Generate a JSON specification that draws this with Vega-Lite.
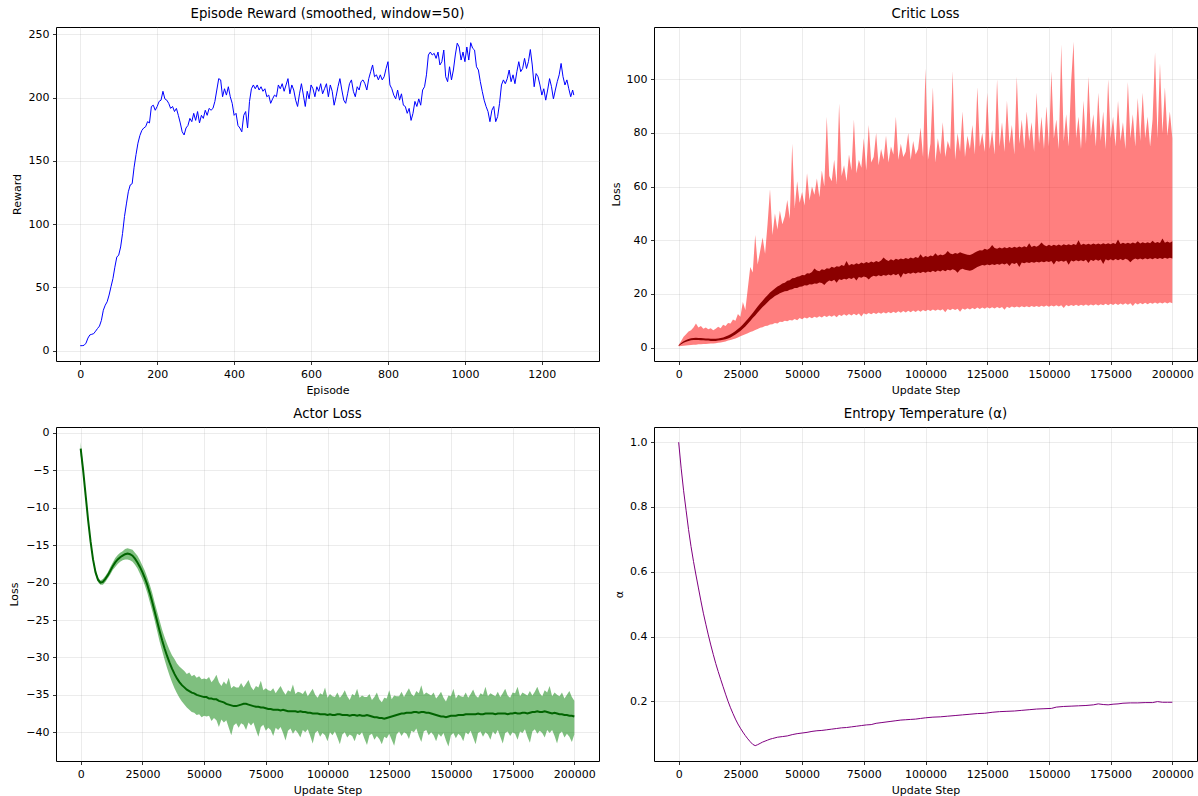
{
"$schema": "https://vega.github.io/schema/vega-lite/v6.json",
"autosize": {"type": "none"},
"padding": {"left": 56, "top": 27, "right": 1142, "bottom": 769},
"background": "white",
"columns": 2,
"spacing": {"row": 66, "column": 55},
"bounds": "flush",
"config": {
  "view": {"stroke": "#000", "strokeWidth": 1},
  "axis": {"domain": false, "grid": true, "gridColor": "#b0b0b0", "gridOpacity": 0.3, "gridWidth": 0.8, "tickColor": "#000", "tickSize": 3.5, "tickWidth": 0.8, "labelFont": "DejaVu Sans", "labelFontSize": 11, "labelColor": "#000", "labelPadding": 3.5, "labelOverlap": false, "labelFlush": false, "titleFont": "DejaVu Sans", "titleFontSize": 11, "titleFontWeight": "normal", "titleColor": "#000"},
  "title": {"font": "DejaVu Sans", "fontSize": 13.3, "fontWeight": "normal", "color": "#000", "anchor": "middle", "frame": "group", "offset": 7, "baseline": "alphabetic"}
},
"datasets": {
"reward": [
{"e":0,"r":4},{"e":5,"r":4},{"e":10,"r":4.3},{"e":15,"r":6},{"e":20,"r":10},{"e":25,"r":12.5},{"e":30,"r":13},{"e":35,"r":13.5},{"e":40,"r":15.5},{"e":45,"r":17.6},{"e":50,"r":19.5},{"e":55,"r":24},{"e":60,"r":32},{"e":65,"r":36},{"e":70,"r":38.7},{"e":75,"r":44},{"e":80,"r":50.6},{"e":85,"r":57},{"e":90,"r":66},{"e":95,"r":74},{"e":100,"r":75.6},{"e":105,"r":82},{"e":110,"r":92.7},{"e":115,"r":106},{"e":120,"r":116},{"e":125,"r":125.6},{"e":130,"r":131},{"e":135,"r":132},{"e":140,"r":145},{"e":145,"r":155},{"e":150,"r":164},{"e":155,"r":170},{"e":160,"r":174},{"e":165,"r":176},{"e":170,"r":177},{"e":175,"r":181},{"e":180,"r":180},{"e":185,"r":193},{"e":190,"r":194},{"e":195,"r":190},{"e":200,"r":193},{"e":205,"r":197},{"e":210,"r":198},{"e":215,"r":205},{"e":220,"r":199},{"e":225,"r":198},{"e":230,"r":195.5},{"e":235,"r":191.5},{"e":240,"r":193},{"e":245,"r":189},{"e":250,"r":191.5},{"e":255,"r":186},{"e":260,"r":180},{"e":265,"r":173},{"e":270,"r":170.5},{"e":275,"r":176},{"e":280,"r":178},{"e":285,"r":183.6},{"e":290,"r":181},{"e":295,"r":187.6},{"e":300,"r":182},{"e":305,"r":189},{"e":310,"r":180},{"e":315,"r":186},{"e":320,"r":183.6},{"e":325,"r":190},{"e":330,"r":186},{"e":335,"r":191.5},{"e":340,"r":190},{"e":345,"r":191.5},{"e":350,"r":197},{"e":355,"r":206},{"e":360,"r":215},{"e":365,"r":214},{"e":370,"r":200.7},{"e":375,"r":207},{"e":380,"r":202},{"e":385,"r":208.6},{"e":390,"r":200.7},{"e":395,"r":195.5},{"e":400,"r":186},{"e":405,"r":187.6},{"e":410,"r":178},{"e":415,"r":176},{"e":420,"r":173},{"e":425,"r":186},{"e":430,"r":189},{"e":435,"r":176},{"e":440,"r":197},{"e":445,"r":207},{"e":450,"r":210},{"e":455,"r":207},{"e":460,"r":210},{"e":465,"r":206},{"e":470,"r":208.6},{"e":475,"r":205},{"e":480,"r":207},{"e":485,"r":200.7},{"e":490,"r":202},{"e":495,"r":195.5},{"e":500,"r":199},{"e":505,"r":202},{"e":510,"r":200.7},{"e":515,"r":210},{"e":520,"r":207},{"e":525,"r":211},{"e":530,"r":205},{"e":535,"r":210},{"e":540,"r":215},{"e":545,"r":203},{"e":550,"r":210},{"e":555,"r":206},{"e":560,"r":198},{"e":565,"r":193},{"e":570,"r":203},{"e":575,"r":211},{"e":580,"r":202},{"e":585,"r":193},{"e":590,"r":205},{"e":595,"r":199},{"e":600,"r":210},{"e":605,"r":207},{"e":610,"r":200.7},{"e":615,"r":208.6},{"e":620,"r":205},{"e":625,"r":211},{"e":630,"r":203},{"e":635,"r":207},{"e":640,"r":211},{"e":645,"r":200.7},{"e":650,"r":210},{"e":655,"r":205},{"e":660,"r":194},{"e":665,"r":200.7},{"e":670,"r":208.6},{"e":675,"r":215},{"e":680,"r":206},{"e":685,"r":198},{"e":690,"r":195.5},{"e":695,"r":203},{"e":700,"r":211},{"e":705,"r":214},{"e":710,"r":205},{"e":715,"r":200.7},{"e":720,"r":208.6},{"e":725,"r":206},{"e":730,"r":212.6},{"e":735,"r":214},{"e":740,"r":211},{"e":745,"r":206},{"e":750,"r":215},{"e":755,"r":220.5},{"e":760,"r":225.8},{"e":765,"r":216.5},{"e":770,"r":218},{"e":775,"r":214},{"e":780,"r":218},{"e":785,"r":214},{"e":790,"r":216.5},{"e":795,"r":223},{"e":800,"r":228.4},{"e":805,"r":210},{"e":810,"r":207},{"e":815,"r":202},{"e":820,"r":199},{"e":825,"r":206},{"e":830,"r":198},{"e":835,"r":203},{"e":840,"r":194},{"e":845,"r":193},{"e":850,"r":187.6},{"e":855,"r":191.5},{"e":860,"r":182},{"e":865,"r":187.6},{"e":870,"r":197},{"e":875,"r":193},{"e":880,"r":199},{"e":885,"r":194},{"e":890,"r":206},{"e":895,"r":208.6},{"e":900,"r":218},{"e":905,"r":233.7},{"e":910,"r":236},{"e":915,"r":233.7},{"e":920,"r":235},{"e":925,"r":231},{"e":930,"r":236},{"e":935,"r":225.8},{"e":940,"r":228.4},{"e":945,"r":237.6},{"e":950,"r":216.5},{"e":955,"r":212.6},{"e":960,"r":224.4},{"e":965,"r":214},{"e":970,"r":221.8},{"e":975,"r":233.7},{"e":980,"r":243},{"e":985,"r":240},{"e":990,"r":229.7},{"e":995,"r":236},{"e":1000,"r":228.4},{"e":1005,"r":240},{"e":1010,"r":229.7},{"e":1015,"r":243.4},{"e":1020,"r":239},{"e":1025,"r":237.6},{"e":1030,"r":224.4},{"e":1035,"r":221.8},{"e":1040,"r":212.6},{"e":1045,"r":205},{"e":1050,"r":198},{"e":1055,"r":193},{"e":1060,"r":189},{"e":1065,"r":181},{"e":1070,"r":190},{"e":1075,"r":193},{"e":1080,"r":181},{"e":1085,"r":185},{"e":1090,"r":195.5},{"e":1095,"r":210},{"e":1100,"r":214},{"e":1105,"r":211},{"e":1110,"r":215},{"e":1115,"r":221.8},{"e":1120,"r":212.6},{"e":1125,"r":218},{"e":1130,"r":211},{"e":1135,"r":220.5},{"e":1140,"r":228.4},{"e":1145,"r":220.5},{"e":1150,"r":223},{"e":1155,"r":231},{"e":1160,"r":223},{"e":1165,"r":228.4},{"e":1170,"r":238},{"e":1175,"r":225.8},{"e":1180,"r":208.6},{"e":1185,"r":219},{"e":1190,"r":216.5},{"e":1195,"r":210},{"e":1200,"r":202},{"e":1205,"r":207},{"e":1210,"r":198},{"e":1215,"r":206},{"e":1220,"r":215},{"e":1225,"r":208.6},{"e":1230,"r":199},{"e":1235,"r":206},{"e":1240,"r":212.6},{"e":1245,"r":218},{"e":1250,"r":227},{"e":1255,"r":216.5},{"e":1260,"r":210},{"e":1265,"r":214},{"e":1270,"r":207},{"e":1275,"r":200.7},{"e":1280,"r":206},{"e":1283,"r":202}
],
"critic": [
{"s":0,"lo":0.5,"hi":1.0,"a":0.6,"b":0.9},{"s":1000,"lo":0.6,"hi":2.5,"a":1.2,"b":1.7},{"s":2000,"lo":0.7,"hi":4,"a":1.8,"b":2.4},{"s":3000,"lo":0.8,"hi":5,"a":2.2,"b":2.8},{"s":4000,"lo":0.9,"hi":6,"a":2.5,"b":3.2},{"s":5000,"lo":1.0,"hi":6.5,"a":2.7,"b":3.5},{"s":6000,"lo":1.1,"hi":7.5,"a":2.8,"b":3.6},{"s":7000,"lo":1.1,"hi":9,"a":2.8,"b":3.7},{"s":8000,"lo":1.2,"hi":7.5,"a":2.8,"b":3.6},{"s":9000,"lo":1.2,"hi":8,"a":2.7,"b":3.6},
{"s":10000,"lo":1.3,"hi":7,"a":2.7,"b":3.5},{"s":11000,"lo":1.3,"hi":7.5,"a":2.6,"b":3.4},{"s":12000,"lo":1.4,"hi":6.8,"a":2.6,"b":3.4},{"s":13000,"lo":1.5,"hi":7.2,"a":2.5,"b":3.3},{"s":14000,"lo":1.5,"hi":6.5,"a":2.5,"b":3.3},{"s":15000,"lo":1.6,"hi":7,"a":2.5,"b":3.3},{"s":16000,"lo":1.8,"hi":7.8,"a":2.6,"b":3.4},{"s":17000,"lo":1.9,"hi":7.2,"a":2.7,"b":3.6},{"s":18000,"lo":2.1,"hi":8.5,"a":2.9,"b":3.8},{"s":19000,"lo":2.3,"hi":8,"a":3.1,"b":4.1},
{"s":20000,"lo":2.6,"hi":9.2,"a":3.4,"b":4.5},{"s":21000,"lo":2.8,"hi":9,"a":3.8,"b":5.0},{"s":22000,"lo":3.1,"hi":10.5,"a":4.3,"b":5.5},{"s":23000,"lo":3.4,"hi":10,"a":4.9,"b":6.2},{"s":24000,"lo":3.8,"hi":12.5,"a":5.5,"b":6.9},{"s":25000,"lo":4.2,"hi":11.5,"a":6.2,"b":7.7},{"s":26000,"lo":4.6,"hi":17,"a":7.0,"b":8.6},{"s":27000,"lo":5.0,"hi":14,"a":7.9,"b":9.6},{"s":28000,"lo":5.3,"hi":22,"a":8.9,"b":10.7},{"s":29000,"lo":5.8,"hi":30,"a":9.9,"b":11.8},
{"s":30000,"lo":6.1,"hi":28,"a":11.0,"b":12.9},{"s":31000,"lo":6.6,"hi":42,"a":12.0,"b":14.1},{"s":32000,"lo":6.9,"hi":31,"a":13.1,"b":15.3},{"s":33000,"lo":7.4,"hi":36,"a":14.1,"b":16.4},{"s":34000,"lo":7.6,"hi":41,"a":15.1,"b":17.5},{"s":35000,"lo":8.0,"hi":35,"a":16.0,"b":18.6},{"s":36000,"lo":8.1,"hi":46,"a":16.9,"b":19.5},{"s":37000,"lo":8.6,"hi":59,"a":17.8,"b":20.5},{"s":38000,"lo":8.7,"hi":42,"a":18.5,"b":21.3},{"s":39000,"lo":9.2,"hi":50,"a":19.2,"b":22.0},
{"s":40000,"lo":9.0,"hi":44,"a":19.7,"b":22.8},{"s":41000,"lo":9.6,"hi":51,"a":20.3,"b":23.2},{"s":42000,"lo":9.5,"hi":46,"a":20.6,"b":23.9},{"s":43000,"lo":10.0,"hi":49,"a":21.0,"b":24.2},{"s":44000,"lo":9.8,"hi":55,"a":21.1,"b":24.9},{"s":45000,"lo":10.3,"hi":48,"a":21.6,"b":25.1},{"s":46000,"lo":10.1,"hi":76,"a":21.7,"b":25.8},{"s":47000,"lo":10.7,"hi":52,"a":22.2,"b":25.9},{"s":48000,"lo":10.2,"hi":62,"a":22.2,"b":26.4},{"s":49000,"lo":11.0,"hi":54,"a":22.7,"b":26.6},
{"s":50000,"lo":10.6,"hi":58,"a":22.8,"b":27.1},{"s":51000,"lo":11.2,"hi":53,"a":23.2,"b":27.0},{"s":52000,"lo":10.8,"hi":65,"a":23.1,"b":27.7},{"s":53000,"lo":11.4,"hi":55,"a":23.6,"b":27.6},{"s":54000,"lo":10.9,"hi":60,"a":23.5,"b":28.2},{"s":55000,"lo":11.5,"hi":57,"a":23.9,"b":29.5},{"s":56000,"lo":11.1,"hi":63,"a":23.8,"b":28.7},{"s":57000,"lo":11.7,"hi":56,"a":24.3,"b":28.5},{"s":58000,"lo":11.2,"hi":66,"a":24.1,"b":29.2},{"s":59000,"lo":11.9,"hi":60,"a":23.3,"b":28.9},
{"s":60000,"lo":11.4,"hi":86,"a":24.4,"b":29.6},{"s":61000,"lo":12.0,"hi":64,"a":25.0,"b":29.4},{"s":62000,"lo":11.5,"hi":62,"a":24.7,"b":30.1},{"s":63000,"lo":12.1,"hi":70,"a":25.3,"b":29.8},{"s":64000,"lo":11.3,"hi":61,"a":24.2,"b":30.3},{"s":65000,"lo":12.2,"hi":91,"a":25.5,"b":30.1},{"s":66000,"lo":11.8,"hi":64,"a":25.2,"b":30.8},{"s":67000,"lo":12.4,"hi":68,"a":25.7,"b":30.4},{"s":68000,"lo":11.9,"hi":62,"a":25.4,"b":32.3},{"s":69000,"lo":12.5,"hi":72,"a":25.9,"b":30.6},
{"s":70000,"lo":12.0,"hi":66,"a":25.6,"b":31.2},{"s":71000,"lo":12.6,"hi":85,"a":26.1,"b":30.9},{"s":72000,"lo":12.1,"hi":65,"a":25.0,"b":31.4},{"s":73000,"lo":12.7,"hi":70,"a":26.3,"b":31.1},{"s":74000,"lo":11.6,"hi":67,"a":26.0,"b":31.7},{"s":75000,"lo":12.8,"hi":78,"a":26.5,"b":31.3},{"s":76000,"lo":12.3,"hi":66,"a":26.2,"b":31.9},{"s":77000,"lo":12.9,"hi":83,"a":25.4,"b":31.5},{"s":78000,"lo":12.4,"hi":69,"a":26.3,"b":32.1},{"s":79000,"lo":13.0,"hi":71,"a":26.8,"b":31.7},
{"s":80000,"lo":12.5,"hi":80,"a":26.5,"b":32.3},{"s":81000,"lo":13.1,"hi":68,"a":27.0,"b":31.9},{"s":82000,"lo":12.6,"hi":74,"a":26.6,"b":32.5},{"s":83000,"lo":13.2,"hi":70,"a":27.1,"b":33.6},{"s":84000,"lo":12.7,"hi":79,"a":26.8,"b":32.7},{"s":85000,"lo":13.3,"hi":69,"a":27.2,"b":32.3},{"s":86000,"lo":12.8,"hi":75,"a":26.9,"b":32.9},{"s":87000,"lo":13.4,"hi":72,"a":27.4,"b":32.5},{"s":88000,"lo":12.9,"hi":86,"a":27.0,"b":33.1},{"s":89000,"lo":13.5,"hi":70,"a":27.5,"b":32.7},
{"s":90000,"lo":13.0,"hi":76,"a":26.0,"b":33.2},{"s":91000,"lo":13.6,"hi":71,"a":27.7,"b":32.9},{"s":92000,"lo":13.1,"hi":73,"a":27.3,"b":33.4},{"s":93000,"lo":13.7,"hi":80,"a":27.8,"b":33.0},{"s":94000,"lo":13.2,"hi":70,"a":27.5,"b":33.6},{"s":95000,"lo":13.8,"hi":77,"a":28.0,"b":33.2},{"s":96000,"lo":13.3,"hi":72,"a":27.6,"b":33.8},{"s":97000,"lo":13.9,"hi":74,"a":28.1,"b":33.4},{"s":98000,"lo":13.4,"hi":82,"a":27.8,"b":34.8},{"s":99000,"lo":14.0,"hi":71,"a":28.3,"b":33.6},
{"s":100000,"lo":13.5,"hi":104,"a":27.9,"b":34.1},{"s":101000,"lo":14.1,"hi":70,"a":28.4,"b":33.8},{"s":102000,"lo":13.6,"hi":76,"a":28.1,"b":34.3},{"s":103000,"lo":14.2,"hi":97,"a":28.6,"b":34.0},{"s":104000,"lo":13.7,"hi":69,"a":28.2,"b":35.2},{"s":105000,"lo":14.2,"hi":78,"a":28.7,"b":34.2},{"s":106000,"lo":13.8,"hi":72,"a":28.4,"b":34.7},{"s":107000,"lo":14.3,"hi":84,"a":28.9,"b":34.4},{"s":108000,"lo":13.2,"hi":71,"a":28.5,"b":34.9},{"s":109000,"lo":14.4,"hi":77,"a":29.0,"b":36.0},
{"s":110000,"lo":13.9,"hi":74,"a":28.7,"b":35.1},{"s":111000,"lo":14.5,"hi":103,"a":29.2,"b":34.8},{"s":112000,"lo":14.0,"hi":70,"a":28.8,"b":35.3},{"s":113000,"lo":14.5,"hi":80,"a":27.9,"b":35.0},{"s":114000,"lo":13.4,"hi":73,"a":29.0,"b":35.5},{"s":115000,"lo":14.6,"hi":88,"a":29.4,"b":35.2},{"s":116000,"lo":14.1,"hi":71,"a":29.0,"b":34.9},{"s":117000,"lo":14.7,"hi":79,"a":28.8,"b":34.6},{"s":118000,"lo":14.2,"hi":74,"a":28.6,"b":34.5},{"s":119000,"lo":14.8,"hi":83,"a":28.9,"b":34.9},
{"s":120000,"lo":14.3,"hi":72,"a":29.5,"b":35.4},{"s":121000,"lo":14.9,"hi":97,"a":30.0,"b":35.9},{"s":122000,"lo":14.4,"hi":75,"a":30.4,"b":36.3},{"s":123000,"lo":14.9,"hi":80,"a":30.8,"b":36.2},{"s":124000,"lo":14.5,"hi":73,"a":30.6,"b":36.8},{"s":125000,"lo":15.0,"hi":95,"a":31.0,"b":36.5},{"s":126000,"lo":14.6,"hi":74,"a":30.7,"b":37.0},{"s":127000,"lo":15.0,"hi":81,"a":31.1,"b":38.2},{"s":128000,"lo":14.6,"hi":72,"a":30.8,"b":37.1},{"s":129000,"lo":15.1,"hi":100,"a":31.2,"b":36.8},
{"s":130000,"lo":14.7,"hi":75,"a":30.9,"b":37.3},{"s":131000,"lo":15.1,"hi":84,"a":31.3,"b":36.9},{"s":132000,"lo":14.1,"hi":73,"a":31.0,"b":37.4},{"s":133000,"lo":15.2,"hi":92,"a":31.4,"b":37.0},{"s":134000,"lo":14.8,"hi":76,"a":30.4,"b":37.5},{"s":135000,"lo":15.3,"hi":83,"a":31.5,"b":37.1},{"s":136000,"lo":14.9,"hi":72,"a":31.2,"b":37.6},{"s":137000,"lo":15.3,"hi":101,"a":31.6,"b":37.2},{"s":138000,"lo":14.9,"hi":76,"a":30.0,"b":37.7},{"s":139000,"lo":15.4,"hi":85,"a":31.7,"b":37.3},
{"s":140000,"lo":15.0,"hi":74,"a":31.4,"b":37.8},{"s":141000,"lo":15.4,"hi":88,"a":31.8,"b":37.4},{"s":142000,"lo":15.0,"hi":77,"a":31.5,"b":38.9},{"s":143000,"lo":15.5,"hi":84,"a":31.9,"b":37.5},{"s":144000,"lo":15.1,"hi":73,"a":31.6,"b":38.0},{"s":145000,"lo":15.5,"hi":95,"a":32.0,"b":37.6},{"s":146000,"lo":15.1,"hi":76,"a":31.7,"b":38.1},{"s":147000,"lo":15.6,"hi":86,"a":32.1,"b":39.2},{"s":148000,"lo":15.2,"hi":74,"a":31.8,"b":38.2},{"s":149000,"lo":15.7,"hi":90,"a":32.2,"b":37.8},
{"s":150000,"lo":15.2,"hi":75,"a":31.9,"b":38.3},{"s":151000,"lo":15.7,"hi":103,"a":32.3,"b":37.9},{"s":152000,"lo":15.3,"hi":78,"a":31.0,"b":38.3},{"s":153000,"lo":15.8,"hi":85,"a":32.4,"b":38.0},{"s":154000,"lo":15.3,"hi":74,"a":32.0,"b":38.4},{"s":155000,"lo":15.8,"hi":113,"a":32.4,"b":38.0},{"s":156000,"lo":14.8,"hi":77,"a":32.0,"b":38.5},{"s":157000,"lo":15.9,"hi":87,"a":32.5,"b":38.1},{"s":158000,"lo":15.4,"hi":75,"a":30.9,"b":38.5},{"s":159000,"lo":15.9,"hi":99,"a":32.5,"b":38.1},
{"s":160000,"lo":15.5,"hi":114,"a":32.1,"b":38.6},{"s":161000,"lo":16.0,"hi":78,"a":32.6,"b":38.2},{"s":162000,"lo":15.5,"hi":86,"a":32.2,"b":40.0},{"s":163000,"lo":16.0,"hi":74,"a":32.6,"b":38.2},{"s":164000,"lo":15.6,"hi":92,"a":32.2,"b":38.7},{"s":165000,"lo":16.1,"hi":76,"a":32.7,"b":38.3},{"s":166000,"lo":15.6,"hi":101,"a":31.5,"b":38.7},{"s":167000,"lo":16.1,"hi":79,"a":32.7,"b":38.3},{"s":168000,"lo":15.7,"hi":87,"a":32.3,"b":38.8},{"s":169000,"lo":16.2,"hi":75,"a":32.8,"b":38.4},
{"s":170000,"lo":15.7,"hi":95,"a":32.4,"b":38.8},{"s":171000,"lo":16.2,"hi":77,"a":32.8,"b":38.4},{"s":172000,"lo":15.8,"hi":88,"a":31.2,"b":38.9},{"s":173000,"lo":16.3,"hi":74,"a":32.9,"b":38.5},{"s":174000,"lo":15.8,"hi":100,"a":32.5,"b":38.9},{"s":175000,"lo":16.3,"hi":78,"a":32.9,"b":38.5},{"s":176000,"lo":15.9,"hi":86,"a":32.5,"b":39.0},{"s":177000,"lo":16.4,"hi":75,"a":33.0,"b":38.6},{"s":178000,"lo":15.9,"hi":92,"a":32.6,"b":40.3},{"s":179000,"lo":16.4,"hi":77,"a":33.0,"b":38.6},
{"s":180000,"lo":16.0,"hi":84,"a":32.6,"b":39.1},{"s":181000,"lo":16.5,"hi":74,"a":33.1,"b":38.7},{"s":182000,"lo":16.0,"hi":99,"a":32.7,"b":39.1},{"s":183000,"lo":16.5,"hi":78,"a":31.8,"b":38.7},{"s":184000,"lo":15.5,"hi":87,"a":32.7,"b":39.2},{"s":185000,"lo":16.6,"hi":75,"a":33.2,"b":38.8},{"s":186000,"lo":16.1,"hi":93,"a":32.8,"b":39.6},{"s":187000,"lo":16.6,"hi":77,"a":33.2,"b":38.8},{"s":188000,"lo":16.2,"hi":95,"a":32.8,"b":39.3},{"s":189000,"lo":16.7,"hi":78,"a":33.3,"b":38.9},
{"s":190000,"lo":16.2,"hi":86,"a":32.9,"b":39.3},{"s":191000,"lo":16.7,"hi":75,"a":33.3,"b":38.9},{"s":192000,"lo":16.3,"hi":85,"a":32.9,"b":39.8},{"s":193000,"lo":16.8,"hi":110,"a":33.4,"b":39.0},{"s":194000,"lo":16.3,"hi":78,"a":33.0,"b":39.4},{"s":195000,"lo":16.8,"hi":106,"a":33.4,"b":39.0},{"s":196000,"lo":16.4,"hi":80,"a":33.0,"b":40.7},{"s":197000,"lo":16.9,"hi":97,"a":33.5,"b":39.1},{"s":198000,"lo":16.4,"hi":79,"a":33.1,"b":39.5},{"s":199000,"lo":16.9,"hi":88,"a":33.5,"b":39.1},
{"s":200000,"lo":16.5,"hi":78,"a":33.2,"b":39.6}
],
"actor": [
{"s":0,"lo":-3.0,"hi":-1.2,"m":-2.1},{"s":1000,"lo":-5.4,"hi":-4.6,"m":-5.0},{"s":2000,"lo":-8.6,"hi":-8.0,"m":-8.3},{"s":3000,"lo":-11.9,"hi":-11.3,"m":-11.6},{"s":4000,"lo":-14.8,"hi":-14.2,"m":-14.5},{"s":5000,"lo":-17.2,"hi":-16.6,"m":-16.9},{"s":6000,"lo":-18.9,"hi":-18.3,"m":-18.6},{"s":7000,"lo":-19.9,"hi":-19.3,"m":-19.6},{"s":8000,"lo":-20.3,"hi":-19.7,"m":-20.0},{"s":9000,"lo":-20.3,"hi":-19.5,"m":-19.9},
{"s":10000,"lo":-19.9,"hi":-19.1,"m":-19.5},{"s":11000,"lo":-19.4,"hi":-18.6,"m":-19.0},{"s":12000,"lo":-18.9,"hi":-17.9,"m":-18.4},{"s":13000,"lo":-18.3,"hi":-17.3,"m":-17.8},{"s":14000,"lo":-17.9,"hi":-16.7,"m":-17.3},{"s":15000,"lo":-17.5,"hi":-16.3,"m":-16.9},{"s":16000,"lo":-17.2,"hi":-16.0,"m":-16.6},{"s":17000,"lo":-17.0,"hi":-15.8,"m":-16.4},{"s":18000,"lo":-16.9,"hi":-15.5,"m":-16.2},{"s":19000,"lo":-16.9,"hi":-15.4,"m":-16.1},
{"s":20000,"lo":-17.0,"hi":-15.5,"m":-16.2},{"s":21000,"lo":-17.2,"hi":-15.6,"m":-16.4},{"s":22000,"lo":-17.6,"hi":-16.0,"m":-16.8},{"s":23000,"lo":-18.1,"hi":-16.4,"m":-17.3},{"s":24000,"lo":-18.8,"hi":-17.0,"m":-17.9},{"s":25000,"lo":-19.5,"hi":-17.7,"m":-18.6},{"s":26000,"lo":-20.4,"hi":-18.4,"m":-19.4},{"s":27000,"lo":-21.4,"hi":-19.3,"m":-20.3},{"s":28000,"lo":-22.6,"hi":-20.3,"m":-21.4},{"s":29000,"lo":-23.8,"hi":-21.4,"m":-22.6},
{"s":30000,"lo":-25.1,"hi":-22.7,"m":-23.9},{"s":31000,"lo":-26.5,"hi":-23.9,"m":-25.2},{"s":32000,"lo":-27.9,"hi":-25.1,"m":-26.5},{"s":33000,"lo":-29.1,"hi":-26.3,"m":-27.7},{"s":34000,"lo":-30.3,"hi":-27.3,"m":-28.8},{"s":35000,"lo":-31.4,"hi":-28.2,"m":-29.8},{"s":36000,"lo":-32.4,"hi":-29.0,"m":-30.7},{"s":37000,"lo":-33.3,"hi":-29.7,"m":-31.5},{"s":38000,"lo":-34.1,"hi":-30.2,"m":-32.2},{"s":39000,"lo":-34.8,"hi":-30.8,"m":-32.8},
{"s":40000,"lo":-35.4,"hi":-31.2,"m":-33.3},{"s":41000,"lo":-35.9,"hi":-31.5,"m":-33.7},{"s":42000,"lo":-36.3,"hi":-31.8,"m":-34.0},{"s":43000,"lo":-36.7,"hi":-32.2,"m":-34.3},{"s":44000,"lo":-37.0,"hi":-32.0,"m":-34.5},{"s":45000,"lo":-37.3,"hi":-32.5,"m":-34.7},{"s":46000,"lo":-37.4,"hi":-32.3,"m":-34.8},{"s":47000,"lo":-37.7,"hi":-32.7,"m":-35.0},{"s":48000,"lo":-37.6,"hi":-32.5,"m":-35.1},{"s":49000,"lo":-38.0,"hi":-32.9,"m":-35.2},
{"s":50000,"lo":-37.8,"hi":-32.8,"m":-35.3},{"s":51000,"lo":-37.9,"hi":-32.9,"m":-35.3},{"s":52000,"lo":-37.8,"hi":-32.6,"m":-35.5},{"s":53000,"lo":-38.5,"hi":-33.3,"m":-35.5},{"s":54000,"lo":-38.1,"hi":-32.9,"m":-35.6},{"s":55000,"lo":-38.4,"hi":-32.3,"m":-35.6},{"s":56000,"lo":-39.3,"hi":-33.3,"m":-35.8},{"s":57000,"lo":-38.3,"hi":-33.8,"m":-35.9},{"s":58000,"lo":-38.7,"hi":-33.2,"m":-36.0},{"s":59000,"lo":-38.4,"hi":-33.6,"m":-36.2},
{"s":60000,"lo":-39.4,"hi":-32.7,"m":-36.3},{"s":61000,"lo":-40.4,"hi":-34.1,"m":-36.4},{"s":62000,"lo":-39.1,"hi":-33.8,"m":-36.5},{"s":63000,"lo":-38.8,"hi":-34.0,"m":-36.5},{"s":64000,"lo":-39.4,"hi":-34.0,"m":-36.4},{"s":65000,"lo":-38.8,"hi":-33.4,"m":-36.3},{"s":66000,"lo":-39.0,"hi":-34.0,"m":-36.2},{"s":67000,"lo":-39.7,"hi":-33.5,"m":-36.2},{"s":68000,"lo":-38.7,"hi":-33.0,"m":-36.3},{"s":69000,"lo":-39.1,"hi":-33.9,"m":-36.4},
{"s":70000,"lo":-38.7,"hi":-34.4,"m":-36.5},{"s":71000,"lo":-39.7,"hi":-33.8,"m":-36.6},{"s":72000,"lo":-40.6,"hi":-34.0,"m":-36.6},{"s":73000,"lo":-39.3,"hi":-33.1,"m":-36.7},{"s":74000,"lo":-39.0,"hi":-34.4,"m":-36.7},{"s":75000,"lo":-39.8,"hi":-34.1,"m":-36.8},{"s":76000,"lo":-39.4,"hi":-34.4,"m":-36.9},{"s":77000,"lo":-39.7,"hi":-34.5,"m":-36.9},{"s":78000,"lo":-40.5,"hi":-34.1,"m":-37.0},{"s":79000,"lo":-39.4,"hi":-34.8,"m":-37.0},
{"s":80000,"lo":-39.7,"hi":-34.3,"m":-37.0},{"s":81000,"lo":-39.3,"hi":-33.8,"m":-37.1},{"s":82000,"lo":-40.1,"hi":-34.5,"m":-37.0},{"s":83000,"lo":-41.1,"hi":-35.0,"m":-37.1},{"s":84000,"lo":-39.8,"hi":-34.4,"m":-37.2},{"s":85000,"lo":-39.5,"hi":-34.6,"m":-37.2},{"s":86000,"lo":-40.2,"hi":-33.6,"m":-37.2},{"s":87000,"lo":-39.7,"hi":-34.9,"m":-37.2},{"s":88000,"lo":-40.1,"hi":-34.6,"m":-37.3},{"s":89000,"lo":-40.7,"hi":-34.7,"m":-37.2},
{"s":90000,"lo":-39.7,"hi":-34.9,"m":-37.3},{"s":91000,"lo":-40.0,"hi":-34.4,"m":-37.3},{"s":92000,"lo":-39.6,"hi":-35.2,"m":-37.4},{"s":93000,"lo":-40.5,"hi":-34.7,"m":-37.4},{"s":94000,"lo":-41.5,"hi":-34.2,"m":-37.5},{"s":95000,"lo":-40.1,"hi":-35.0,"m":-37.5},{"s":96000,"lo":-39.8,"hi":-35.4,"m":-37.5},{"s":97000,"lo":-40.6,"hi":-34.8,"m":-37.6},{"s":98000,"lo":-40.1,"hi":-35.0,"m":-37.6},{"s":99000,"lo":-40.4,"hi":-34.0,"m":-37.6},
{"s":100000,"lo":-41.2,"hi":-35.4,"m":-37.7},{"s":101000,"lo":-40.0,"hi":-34.9,"m":-37.6},{"s":102000,"lo":-40.4,"hi":-35.2,"m":-37.7},{"s":103000,"lo":-39.9,"hi":-35.3,"m":-37.7},{"s":104000,"lo":-40.7,"hi":-34.7,"m":-37.6},{"s":105000,"lo":-41.6,"hi":-35.4,"m":-37.6},{"s":106000,"lo":-40.3,"hi":-35.0,"m":-37.7},{"s":107000,"lo":-40.0,"hi":-34.4,"m":-37.7},{"s":108000,"lo":-40.7,"hi":-35.2,"m":-37.7},{"s":109000,"lo":-40.3,"hi":-35.7,"m":-37.8},
{"s":110000,"lo":-40.5,"hi":-34.9,"m":-37.7},{"s":111000,"lo":-41.2,"hi":-35.1,"m":-37.7},{"s":112000,"lo":-40.2,"hi":-34.2,"m":-37.8},{"s":113000,"lo":-40.4,"hi":-35.4,"m":-37.7},{"s":114000,"lo":-40.0,"hi":-35.1,"m":-37.8},{"s":115000,"lo":-40.9,"hi":-35.3,"m":-37.8},{"s":116000,"lo":-41.7,"hi":-35.3,"m":-37.7},{"s":117000,"lo":-40.4,"hi":-34.9,"m":-37.8},{"s":118000,"lo":-40.2,"hi":-35.7,"m":-37.9},{"s":119000,"lo":-41.0,"hi":-35.3,"m":-38.0},
{"s":120000,"lo":-40.5,"hi":-34.7,"m":-38.0},{"s":121000,"lo":-40.9,"hi":-35.6,"m":-38.1},{"s":122000,"lo":-41.6,"hi":-36.0,"m":-38.1},{"s":123000,"lo":-40.6,"hi":-35.4,"m":-38.2},{"s":124000,"lo":-40.8,"hi":-35.5,"m":-38.1},{"s":125000,"lo":-40.2,"hi":-34.4,"m":-38.0},{"s":126000,"lo":-41.0,"hi":-35.6,"m":-37.9},{"s":127000,"lo":-41.8,"hi":-35.1,"m":-37.8},{"s":128000,"lo":-40.3,"hi":-35.2,"m":-37.7},{"s":129000,"lo":-39.9,"hi":-35.2,"m":-37.6},
{"s":130000,"lo":-40.5,"hi":-34.6,"m":-37.5},{"s":131000,"lo":-40.0,"hi":-35.3,"m":-37.5},{"s":132000,"lo":-40.2,"hi":-34.7,"m":-37.4},{"s":133000,"lo":-40.9,"hi":-34.1,"m":-37.4},{"s":134000,"lo":-39.8,"hi":-34.9,"m":-37.4},{"s":135000,"lo":-40.0,"hi":-35.2,"m":-37.3},{"s":136000,"lo":-39.5,"hi":-34.5,"m":-37.3},{"s":137000,"lo":-40.5,"hi":-34.8,"m":-37.4},{"s":138000,"lo":-41.3,"hi":-33.7,"m":-37.3},{"s":139000,"lo":-39.9,"hi":-35.0,"m":-37.3},
{"s":140000,"lo":-39.7,"hi":-34.7,"m":-37.4},{"s":141000,"lo":-40.4,"hi":-34.9,"m":-37.4},{"s":142000,"lo":-40.0,"hi":-35.1,"m":-37.5},{"s":143000,"lo":-40.4,"hi":-34.7,"m":-37.6},{"s":144000,"lo":-41.2,"hi":-35.5,"m":-37.7},{"s":145000,"lo":-40.2,"hi":-35.1,"m":-37.8},{"s":146000,"lo":-40.6,"hi":-34.6,"m":-37.9},{"s":147000,"lo":-40.1,"hi":-35.4,"m":-37.9},{"s":148000,"lo":-41.1,"hi":-35.9,"m":-38.0},{"s":149000,"lo":-41.9,"hi":-35.1,"m":-37.9},
{"s":150000,"lo":-40.4,"hi":-35.2,"m":-37.8},{"s":151000,"lo":-40.1,"hi":-34.2,"m":-37.8},{"s":152000,"lo":-40.8,"hi":-35.5,"m":-37.8},{"s":153000,"lo":-40.2,"hi":-35.0,"m":-37.7},{"s":154000,"lo":-40.5,"hi":-35.2,"m":-37.7},{"s":155000,"lo":-41.2,"hi":-35.3,"m":-37.7},{"s":156000,"lo":-40.0,"hi":-34.7,"m":-37.6},{"s":157000,"lo":-40.3,"hi":-35.4,"m":-37.6},{"s":158000,"lo":-39.8,"hi":-34.9,"m":-37.6},{"s":159000,"lo":-40.7,"hi":-34.3,"m":-37.6},
{"s":160000,"lo":-41.6,"hi":-35.1,"m":-37.6},{"s":161000,"lo":-40.1,"hi":-35.4,"m":-37.5},{"s":162000,"lo":-39.9,"hi":-34.8,"m":-37.6},{"s":163000,"lo":-40.6,"hi":-35.0,"m":-37.6},{"s":164000,"lo":-40.0,"hi":-33.9,"m":-37.5},{"s":165000,"lo":-40.3,"hi":-35.2,"m":-37.5},{"s":166000,"lo":-41.0,"hi":-34.8,"m":-37.5},{"s":167000,"lo":-39.9,"hi":-35.0,"m":-37.5},{"s":168000,"lo":-40.3,"hi":-35.2,"m":-37.6},{"s":169000,"lo":-39.7,"hi":-34.6,"m":-37.5},
{"s":170000,"lo":-40.6,"hi":-35.3,"m":-37.5},{"s":171000,"lo":-41.5,"hi":-34.8,"m":-37.5},{"s":172000,"lo":-40.1,"hi":-34.2,"m":-37.5},{"s":173000,"lo":-39.9,"hi":-35.1,"m":-37.6},{"s":174000,"lo":-40.5,"hi":-35.4,"m":-37.5},{"s":175000,"lo":-40.0,"hi":-34.7,"m":-37.5},{"s":176000,"lo":-40.2,"hi":-34.8,"m":-37.4},{"s":177000,"lo":-41.0,"hi":-33.9,"m":-37.5},{"s":178000,"lo":-39.9,"hi":-35.2,"m":-37.5},{"s":179000,"lo":-40.1,"hi":-34.7,"m":-37.4},
{"s":180000,"lo":-39.6,"hi":-34.9,"m":-37.4},{"s":181000,"lo":-40.6,"hi":-35.1,"m":-37.5},{"s":182000,"lo":-41.4,"hi":-34.5,"m":-37.4},{"s":183000,"lo":-39.9,"hi":-35.1,"m":-37.3},{"s":184000,"lo":-39.6,"hi":-34.6,"m":-37.3},{"s":185000,"lo":-40.2,"hi":-33.9,"m":-37.2},{"s":186000,"lo":-39.8,"hi":-34.8,"m":-37.3},{"s":187000,"lo":-40.1,"hi":-35.2,"m":-37.3},{"s":188000,"lo":-40.7,"hi":-34.4,"m":-37.2},{"s":189000,"lo":-39.7,"hi":-34.7,"m":-37.3},
{"s":190000,"lo":-40.1,"hi":-33.8,"m":-37.4},{"s":191000,"lo":-39.7,"hi":-35.2,"m":-37.5},{"s":192000,"lo":-40.5,"hi":-34.7,"m":-37.4},{"s":193000,"lo":-41.5,"hi":-35.0,"m":-37.5},{"s":194000,"lo":-40.2,"hi":-35.2,"m":-37.6},{"s":195000,"lo":-39.9,"hi":-34.7,"m":-37.6},{"s":196000,"lo":-40.7,"hi":-35.5,"m":-37.7},{"s":197000,"lo":-40.2,"hi":-35.0,"m":-37.7},{"s":198000,"lo":-40.6,"hi":-34.5,"m":-37.8},{"s":199000,"lo":-41.3,"hi":-35.3,"m":-37.8},
{"s":200000,"lo":-40.3,"hi":-35.8,"m":-37.9}
],
"alpha": [
{"s":0,"a":1.0},{"s":1000,"a":0.92},{"s":2000,"a":0.85},{"s":3000,"a":0.79},{"s":4000,"a":0.73},{"s":5000,"a":0.678},{"s":6000,"a":0.632},{"s":7000,"a":0.59},{"s":8000,"a":0.55},{"s":9000,"a":0.51},{"s":10000,"a":0.472},{"s":11000,"a":0.438},{"s":12000,"a":0.405},{"s":13000,"a":0.374},{"s":14000,"a":0.345},{"s":15000,"a":0.317},{"s":16000,"a":0.292},{"s":17000,"a":0.268},{"s":18000,"a":0.245},{"s":19000,"a":0.222},{"s":20000,"a":0.2},{"s":21000,"a":0.18},{"s":22000,"a":0.162},{"s":23000,"a":0.145},{"s":24000,"a":0.13},{"s":25000,"a":0.117},{"s":26000,"a":0.105},{"s":27000,"a":0.094},{"s":28000,"a":0.084},{"s":29000,"a":0.075},{"s":30000,"a":0.067},{"s":31000,"a":0.063},{"s":32000,"a":0.066},{"s":33000,"a":0.07},{"s":34000,"a":0.074},{"s":35000,"a":0.077},{"s":36000,"a":0.08},{"s":37000,"a":0.083},{"s":38000,"a":0.085},{"s":39000,"a":0.087},{"s":40000,"a":0.089},{"s":42000,"a":0.091},{"s":44000,"a":0.093},{"s":46000,"a":0.097},{"s":48000,"a":0.1},{"s":50000,"a":0.102},{"s":52000,"a":0.104},{"s":54000,"a":0.107},{"s":56000,"a":0.109},{"s":58000,"a":0.11},{"s":60000,"a":0.112},{"s":62000,"a":0.114},{"s":64000,"a":0.116},{"s":66000,"a":0.118},{"s":68000,"a":0.119},{"s":70000,"a":0.121},{"s":72000,"a":0.123},{"s":74000,"a":0.125},{"s":76000,"a":0.127},{"s":78000,"a":0.128},{"s":80000,"a":0.132},{"s":82000,"a":0.134},{"s":84000,"a":0.136},{"s":86000,"a":0.138},{"s":88000,"a":0.14},{"s":90000,"a":0.142},{"s":92000,"a":0.143},{"s":94000,"a":0.144},{"s":96000,"a":0.145},{"s":98000,"a":0.147},{"s":100000,"a":0.149},{"s":103000,"a":0.151},{"s":106000,"a":0.152},{"s":109000,"a":0.154},{"s":112000,"a":0.156},{"s":115000,"a":0.158},{"s":118000,"a":0.16},{"s":121000,"a":0.162},{"s":124000,"a":0.163},{"s":127000,"a":0.166},{"s":130000,"a":0.168},{"s":133000,"a":0.169},{"s":136000,"a":0.17},{"s":139000,"a":0.172},{"s":142000,"a":0.174},{"s":145000,"a":0.176},{"s":148000,"a":0.177},{"s":151000,"a":0.178},{"s":153000,"a":0.182},{"s":156000,"a":0.184},{"s":159000,"a":0.185},{"s":162000,"a":0.186},{"s":165000,"a":0.187},{"s":168000,"a":0.189},{"s":170000,"a":0.192},{"s":172000,"a":0.19},{"s":174000,"a":0.189},{"s":176000,"a":0.191},{"s":178000,"a":0.192},{"s":180000,"a":0.194},{"s":183000,"a":0.195},{"s":186000,"a":0.195},{"s":189000,"a":0.196},{"s":192000,"a":0.196},{"s":194000,"a":0.199},{"s":196000,"a":0.197},{"s":198000,"a":0.197},{"s":200000,"a":0.197}
]
},
"concat": [
{
  "title": "Episode Reward (smoothed, window=50)",
  "width": 543, "height": 334,
  "data": {"name": "reward"},
  "mark": {"type": "line", "color": "#0000ff", "strokeWidth": 1},
  "encoding": {
    "x": {"field": "e", "type": "quantitative", "scale": {"domain": [-63, 1348.5], "nice": false, "zero": false}, "axis": {"title": "Episode", "values": [0,200,400,600,800,1000,1200], "format": "d", "titleX": 271.5, "titleY": 32, "titleBaseline": "alphabetic"}},
    "y": {"field": "r", "type": "quantitative", "scale": {"domain": [-8.1, 255.8], "nice": false, "zero": false}, "axis": {"title": "Reward", "values": [0,50,100,150,200,250], "format": "d", "titleX": -36, "titleY": 167, "titleBaseline": "alphabetic"}}
  }
},
{
  "title": "Critic Loss",
  "width": 543, "height": 334,
  "data": {"name": "critic"},
  "encoding": {
    "x": {"field": "s", "type": "quantitative", "scale": {"domain": [-10000, 210000], "nice": false, "zero": false}, "axis": {"title": "Update Step", "values": [0,25000,50000,75000,100000,125000,150000,175000,200000], "format": "d", "titleX": 271.5, "titleY": 32, "titleBaseline": "alphabetic"}}
  },
  "layer": [
    {"mark": {"type": "area", "color": "#ff0000", "opacity": 0.5},
     "encoding": {"y": {"field": "hi", "type": "quantitative", "scale": {"domain": [-5, 119.5], "nice": false, "zero": false}, "axis": {"title": "Loss", "values": [0,20,40,60,80,100], "format": "d", "titleX": -35, "titleY": 167, "titleBaseline": "alphabetic"}}, "y2": {"field": "lo"}}},
    {"mark": {"type": "area", "color": "#8b0000"},
     "encoding": {"y": {"field": "b", "type": "quantitative", "scale": {"domain": [-5, 119.5], "nice": false, "zero": false}, "axis": {"title": "Loss", "values": [0,20,40,60,80,100], "format": "d", "titleX": -35, "titleY": 167, "titleBaseline": "alphabetic"}}, "y2": {"field": "a"}}}
  ]
},
{
  "title": "Actor Loss",
  "width": 543, "height": 334,
  "data": {"name": "actor"},
  "encoding": {
    "x": {"field": "s", "type": "quantitative", "scale": {"domain": [-10000, 210000], "nice": false, "zero": false}, "axis": {"title": "Update Step", "values": [0,25000,50000,75000,100000,125000,150000,175000,200000], "format": "d", "titleX": 271.5, "titleY": 32, "titleBaseline": "alphabetic"}}
  },
  "layer": [
    {"mark": {"type": "area", "color": "#008000", "opacity": 0.5},
     "encoding": {"y": {"field": "hi", "type": "quantitative", "scale": {"domain": [-43.84, 0.8], "nice": false, "zero": false}, "axis": {"title": "Loss", "values": [0,-5,-10,-15,-20,-25,-30,-35,-40], "format": "d", "titleX": -39, "titleY": 167, "titleBaseline": "alphabetic"}}, "y2": {"field": "lo"}}},
    {"mark": {"type": "line", "color": "#006400", "strokeWidth": 2},
     "encoding": {"y": {"field": "m", "type": "quantitative", "scale": {"domain": [-43.84, 0.8], "nice": false, "zero": false}, "axis": {"title": "Loss", "values": [0,-5,-10,-15,-20,-25,-30,-35,-40], "format": "d", "titleX": -39, "titleY": 167, "titleBaseline": "alphabetic"}}}}
  ]
},
{
  "title": "Entropy Temperature (α)",
  "width": 543, "height": 334,
  "data": {"name": "alpha"},
  "mark": {"type": "line", "color": "#800080", "strokeWidth": 1},
  "encoding": {
    "x": {"field": "s", "type": "quantitative", "scale": {"domain": [-10000, 210000], "nice": false, "zero": false}, "axis": {"title": "Update Step", "values": [0,25000,50000,75000,100000,125000,150000,175000,200000], "format": "d", "titleX": 271.5, "titleY": 32, "titleBaseline": "alphabetic"}},
    "y": {"field": "a", "type": "quantitative", "scale": {"domain": [0.0156, 1.047], "nice": false, "zero": false}, "axis": {"title": "α", "values": [0.2,0.4,0.6,0.8,1.0], "format": ".1f", "titleX": -32, "titleY": 167, "titleBaseline": "alphabetic"}}
  }
}
]
}
